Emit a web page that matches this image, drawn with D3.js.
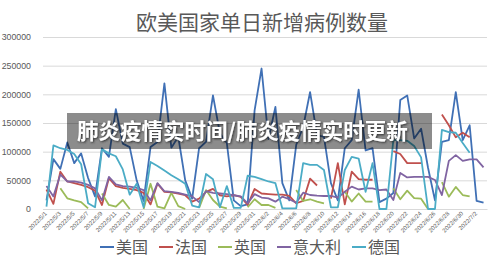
<!DOCTYPE html>
<html>
<head>
<meta charset="utf-8">
<script src="https://cdn.jsdelivr.net/npm/d3@7"></script>
<style>
  html, body { margin: 0; padding: 0; background: #fff; }
  svg { display: block; }
</style>
</head>
<body>
<svg id="chart" width="500" height="264"></svg>
<script>
// Daily new cases, 2022/5/1 – 2022/7/3
const dates = d3.range(64).map(i => {
  const d = new Date(2022, 4, 1 + i);
  return `${d.getFullYear()}/${d.getMonth() + 1}/${d.getDate()}`;
});

const seriesNames = ["美国", "法国", "英国", "意大利", "德国"];

const us = [15000, 87000, 70000, 116000, 80000, 97000, 54000, 22000, 106000, 91000,
  174000, 114000, 108000, 50000, 14000, 108000, 117000, 219000, 107000, 126000,
  50000, 18000, 106000, 117000, 198000, 132000, 115000, 15000, 5000, 8000,
  172000, 245000, 122000, 178000, 45000, 15000, 112000, 143000, 204000, 129000,
  126000, 45000, 15000, 106000, 120000, 208000, 102000, 106000, 12000, 18000,
  28000, 190000, 198000, 123000, 140000, 72000, 15000, 117000, 120000, 204000,
  120000, 146000, 14000, 11000];

const france = [34000, 9000, 65000, 48000, 45000, 42000, 38000, 32000, 7000, 54000,
  40000, 37000, 35000, 33000, 28000, 8000, 44000, 30000, 29000, 27000,
  24000, 13000, 18000, 30000, 35000, 24000, 22000, 24000, 21000, 7000,
  35000, 27000, 26000, 25000, 25000, 23000, 10000, 14000, 53000, 41000,
  null, 18000, 80000, 8000, 65000, 52000, 51000, 51000, null, null,
  101000, 96000, 80000, 80000, 80000, null, null, 165000, 146000, 125000,
  133000, 125000, null, null];

const uk = [null, null, 36000, 18600, 15000, 12000, 1000, null, 27000, 7000,
  4000, 15700, 0, null, 0, 44000, 4000, 1000, 28000, 5000,
  0, null, 2000, 33000, 15700, 4000, 1000, null, null, 3000,
  17000, 7000, 7000, 2000, null, null, 33000, 14000, 17000, 13000,
  10000, null, null, 30000, 13000, 27000, 13000, 13000, null, null,
  36000, 17000, 32000, 19000, 18000, 0, null, 47000, 21500, 38500,
  24400, 22000, null, null];

const italy = [40000, 22000, 60000, 48000, 48000, 46000, 42000, 36000, 15000, 56000,
  43000, 40000, 39000, 37000, 33000, 15000, 45000, 31000, 30000, 28000,
  25000, 22000, 12000, 31000, 28000, 27000, 26000, 24000, 22000, 10000,
  26000, 20000, 18600, 12800, 21500, 17000, 11000, 28400, 24400, 23200,
  22700, 22700, 19700, 30000, 39000, 34000, 36000, 36000, 33000, 34000,
  15700, 63000, 55000, 56000, 56000, 56000, 50600, 24400, 84000, 94000,
  84000, 86700, 86700, 72700];

const germany = [4000, 111000, 106000, 103000, 96000, 78000, 10000, 3000, 104000, 97000,
  92000, 69000, 25000, 44000, 3000, 82000, 75000, 67000, 59000, 52000,
  44000, 6000, 3000, 61000, 52000, 3000, 40000, 2000, 2000, 58000,
  56000, 52000, 48000, 45000, 1000, 1000, 1000, 80000, 77000, 77000,
  68000, 3000, 3000, 68000, 91000, 88000, 30000, 80000, 0, 0,
  120000, 120000, 119000, 110000, 90000, 0, 0, 138000, 134000, 133000,
  115000, 98000, null, null];

const yTicks = [0, 50000, 100000, 150000, 200000, 250000, 300000];
const colors = ["#4070b5", "#c0504d", "#9bbb59", "#8064a2", "#4bacc6"];
const seriesValues = [us, france, uk, italy, germany];

const svg = d3.select("#chart");
const textColor = "#595959";
const cjk = "'Noto Sans CJK SC', 'Noto Sans', sans-serif";
const latin = "'Liberation Sans', Arial, sans-serif";

const x = d3.scaleBand().domain(dates).range([43, 487]).padding(0);
const y = d3.scaleLinear().domain([0, 300000]).range([209, 37]);
const cx = i => x(dates[i]) + x.bandwidth() / 2;

// Title
svg.append("text")
  .attr("x", 262).attr("y", 30)
  .attr("text-anchor", "middle")
  .attr("font-family", cjk)
  .attr("font-size", 21)
  .attr("fill", textColor)
  .text("欧美国家单日新增病例数量");

// Gridlines and y axis labels
const yAxis = d3.axisLeft(y).tickValues(yTicks).tickSize(-(487 - 43)).tickFormat(d3.format("d"));
const gy = svg.append("g").attr("transform", "translate(43,0)").call(yAxis);
gy.select(".domain").remove();
gy.selectAll(".tick line").attr("stroke", "#d9d9d9").attr("stroke-width", 1);
gy.selectAll(".tick text")
  .attr("x", -12)
  .attr("fill", textColor)
  .attr("font-family", latin)
  .attr("font-size", 8.8);

// X axis labels, every other date, rotated
const xAxis = d3.axisBottom(x).tickValues(dates.filter((d, i) => i % 2 === 0)).tickSize(0);
const gx = svg.append("g").attr("transform", "translate(0,209)").call(xAxis);
gx.select(".domain").attr("stroke", "#d9d9d9");
gx.selectAll(".tick text")
  .attr("fill", textColor)
  .attr("font-family", latin)
  .attr("font-size", 6)
  .attr("text-anchor", "end")
  .attr("dy", 0)
  .attr("y", 0)
  .attr("transform", "translate(1,5) rotate(-45)");

// Series lines; empty days leave gaps
const line = d3.line()
  .defined(d => d.v != null)
  .x(d => cx(d.i))
  .y(d => y(d.v));

svg.append("g").selectAll("path")
  .data(seriesValues.map(vals => vals.map((v, i) => ({ v, i }))))
  .join("path")
  .attr("fill", "none")
  .attr("stroke", (d, i) => colors[i])
  .attr("stroke-width", 1.8)
  .attr("stroke-linejoin", "round")
  .attr("d", line);

// Legend
const legendX = [100, 159, 218, 277, 352];
const lg = svg.append("g");
seriesNames.forEach((name, i) => {
  lg.append("line")
    .attr("x1", legendX[i]).attr("x2", legendX[i] + 14)
    .attr("y1", 247).attr("y2", 247)
    .attr("stroke", colors[i]).attr("stroke-width", 2);
  lg.append("text")
    .attr("x", legendX[i] + 16).attr("y", 253)
    .attr("font-family", cjk)
    .attr("font-size", 16)
    .attr("fill", textColor)
    .text(name);
});

// Caption banner across the plot
const defs = svg.append("defs");
const f = defs.append("filter").attr("id", "shadow")
  .attr("x", "-10%").attr("y", "-30%").attr("width", "120%").attr("height", "160%");
f.append("feDropShadow").attr("dx", 1).attr("dy", 1).attr("stdDeviation", 1)
  .attr("flood-color", "#222").attr("flood-opacity", 0.9);

svg.append("rect")
  .attr("x", 67).attr("y", 113)
  .attr("width", 365).attr("height", 36)
  .attr("fill", "#000").attr("fill-opacity", 0.45);
svg.append("text")
  .attr("x", 77).attr("y", 139)
  .attr("font-family", cjk)
  .attr("font-weight", 700)
  .attr("font-size", 21.5)
  .attr("fill", "#fff")
  .attr("filter", "url(#shadow)")
  .text("肺炎疫情实时间/肺炎疫情实时更新");
</script>
</body>
</html>
